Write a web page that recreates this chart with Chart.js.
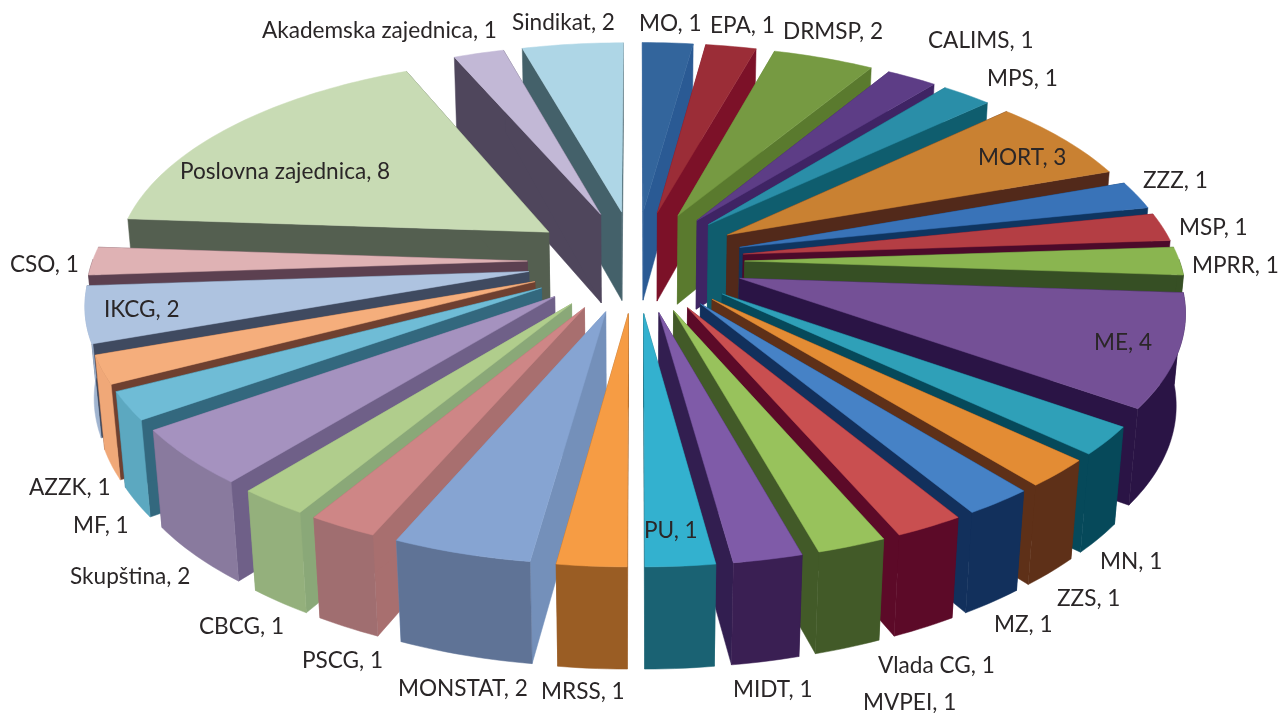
<!DOCTYPE html>
<html>
<head>
<meta charset="utf-8">
<title>Pie</title>
<script src="https://cdn.jsdelivr.net/npm/chart.js@4"></script>
<style>
  html, body { margin: 0; padding: 0; background: #fff; }
  canvas { display: block; }
</style>
</head>
<body>
<canvas id="chart" width="1280" height="713"></canvas>
<script>
const categories = ["MO", "EPA", "DRMSP", "CALIMS", "MPS", "MORT", "ZZZ", "MSP", "MPRR", "ME", "MN", "ZZS", "MZ", "Vlada CG", "MVPEI", "MIDT", "PU", "MRSS", "MONSTAT", "PSCG", "CBCG", "Skupština", "MF", "AZZK", "IKCG", "CSO", "Poslovna zajednica", "Akademska zajednica", "Sindikat"];
const values = [1, 1, 2, 1, 1, 3, 1, 1, 1, 4, 1, 1, 1, 1, 1, 1, 1, 1, 2, 1, 1, 2, 1, 1, 2, 1, 8, 1, 2];

const topColors = ["#33659c", "#9b2d37", "#769a42", "#5d3d86", "#2a8ea8", "#c98132", "#3973b8", "#b43e44", "#8ab550", "#745096", "#2fa0b8", "#e38c34", "#4682c6", "#c94f50", "#98c25c", "#7f5ba8", "#33b1cf", "#f69c44", "#86a4d2", "#ce8686", "#b0cd8c", "#a592bf", "#6fbcd6", "#f5ae7c", "#aec3e0", "#dfb2b4", "#c8dbb4", "#c2b8d6", "#aed6e6"];
const wallColors = ["#2a5a94", "#7c1128", "#5a7a2e", "#3f2464", "#0f5d6e", "#52291a", "#0f3560", "#4c0a2a", "#364f24", "#2a1445", "#06495a", "#5e3018", "#12305c", "#5c0a28", "#425a28", "#321e50", "#1a6273", "#9a5d24", "#7490ba", "#a86f6f", "#8aa878", "#6f6088", "#33687e", "#6f4030", "#3f4a60", "#5c4050", "#545f50", "#4f465c", "#44616a"];
const rimColors = ["#2a5a94", "#7c1128", "#5a7a2e", "#3f2464", "#0f5d6e", "#52291a", "#0f3560", "#4c0a2a", "#364f24", "#2a1445", "#06495a", "#5e3018", "#12305c", "#5c0a28", "#425a28", "#3a1f53", "#1a6273", "#9a5d24", "#5f7396", "#a06e70", "#94b07c", "#897a9e", "#5ca8c0", "#f0a878", "#a0b4d0", "#5c4050", "#545f50", "#4f465c", "#44616a"];

// left edge and middle of each label, same order as categories
const labelX = [639, 710, 783, 928, 987, 978, 1143, 1179, 1192, 1094, 1100, 1057, 994, 878, 863, 733, 644, 541, 398, 302, 199, 70, 73, 29, 104, 10, 180, 262, 512];
const labelY = [24, 26, 32, 41, 79, 158, 181, 228, 266, 343, 562, 599, 625, 666, 703, 690, 531, 692, 689, 661, 627, 577, 526, 488, 310, 265, 172, 31, 23];

// tilted view of the pie
const view = { cx: 636, cy: 261, kx: 543.5, ky: 255, depth: 92, persp: 1 / 6, perspZ: 0.0166, rim: 0.8, explode: 0.2 };

function project(x, y, down) {
  const s = 1 / (1 - view.persp * y + (down ? view.perspZ : 0));
  return [view.cx + view.kx * x * s, view.cy + (view.ky * y + (down ? view.depth : 0)) * s];
}

function fillPoly(ctx, points, color) {
  ctx.beginPath();
  points.forEach((p, i) => (i ? ctx.lineTo(p[0], p[1]) : ctx.moveTo(p[0], p[1])));
  ctx.closePath();
  ctx.fillStyle = color;
  ctx.strokeStyle = color;
  ctx.lineWidth = 0.5;
  ctx.fill();
  ctx.stroke();
}

function drawSlice(ctx, arc, index) {
  const mid = (arc.startAngle + arc.endAngle) / 2;
  const ox = view.explode * Math.cos(mid);
  const oy = view.explode * Math.sin(mid);

  const rimAt = (a) => [ox + view.rim * Math.cos(a), oy + view.rim * Math.sin(a)];
  const steps = Math.max(2, Math.ceil((arc.endAngle - arc.startAngle) / 0.02));
  const angles = [];
  for (let i = 0; i <= steps; i++) {
    angles.push(arc.startAngle + (arc.endAngle - arc.startAngle) * i / steps);
  }

  // radial walls
  [arc.startAngle, arc.endAngle].forEach((a) => {
    const [x, y] = rimAt(a);
    fillPoly(ctx, [project(ox, oy, false), project(x, y, false), project(x, y, true), project(ox, oy, true)], wallColors[index]);
  });

  // outer wall, only the part turned to the viewer
  const facing = angles.filter((a) => Math.sin(a) >= -0.02);
  if (facing.length > 1) {
    const upper = facing.map((a) => project(...rimAt(a), false));
    const lower = facing.map((a) => project(...rimAt(a), true)).reverse();
    fillPoly(ctx, upper.concat(lower), rimColors[index]);
  }

  // top face
  const top = [project(ox, oy, false)];
  angles.forEach((a) => top.push(project(...rimAt(a), false)));
  fillPoly(ctx, top, topColors[index]);
}

const tiltedPie = {
  id: "tiltedPie",
  beforeDatasetDraw(chart, args) {
    const ctx = chart.ctx;
    const arcs = chart.getDatasetMeta(args.index).data;
    const order = arcs.map((arc, i) => i).sort((a, b) => {
      const midA = (arcs[a].startAngle + arcs[a].endAngle) / 2;
      const midB = (arcs[b].startAngle + arcs[b].endAngle) / 2;
      return Math.sin(midA) - Math.sin(midB);
    });
    ctx.save();
    order.forEach((i) => drawSlice(ctx, arcs[i], i));
    ctx.restore();
    return false;
  },
  afterDatasetsDraw(chart) {
    const ctx = chart.ctx;
    ctx.save();
    ctx.font = '22.6px Lato, "Open Sans", sans-serif';
    ctx.fillStyle = "#2a2627";
    ctx.textAlign = "left";
    ctx.textBaseline = "middle";
    categories.forEach((name, i) => {
      ctx.fillText(`${name}, ${values[i]}`, labelX[i], labelY[i]);
    });
    ctx.restore();
  },
};

new Chart(document.getElementById("chart"), {
  type: "pie",
  data: {
    labels: categories,
    datasets: [{ data: values, backgroundColor: topColors, borderWidth: 0 }],
  },
  options: {
    responsive: false,
    animation: false,
    plugins: {
      legend: { display: false },
      tooltip: { enabled: false },
    },
  },
  plugins: [tiltedPie],
});
</script>
</body>
</html>
